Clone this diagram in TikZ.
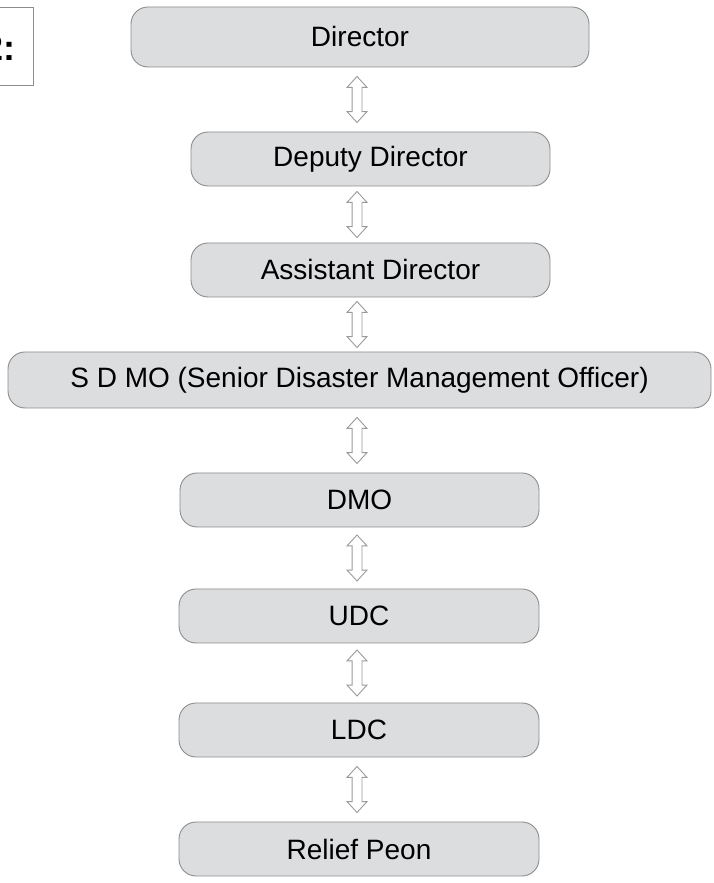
\documentclass[tikz,border=0pt]{standalone}
\usepackage{fontspec}
\setmainfont{Liberation Sans}
\usetikzlibrary{shapes.arrows}

\definecolor{boxgray}{HTML}{DCDDDF}
\definecolor{edgegray}{HTML}{8C8C8C}
\definecolor{arrowgray}{HTML}{9A9A9A}

\tikzset{
  post/.style={draw=edgegray, fill=boxgray, line width=0.9pt,
    rounded corners=17pt, inner sep=0pt, minimum height=54pt,
    font=\fontsize{28}{32}\selectfont},
  link/.style={double arrow, draw=arrowgray, fill=white, line width=0.9pt,
    minimum height=46pt, inner sep=4.5pt,
    double arrow head extend=5pt, double arrow tip angle=85,
    shape border rotate=90}
}

\begin{document}
\begin{tikzpicture}[x=1pt,y=1pt]

  \newcommand\W{359pt};
  \newcommand\AX{357};

  \useasboundingbox (0,0) rectangle (713,883); %% page
  \clip (0,0) rectangle (713,883);

  %% caption box, cut off at the left edge
  \draw[edgegray, line width=0.9pt] (-20,798) rectangle (33,876);
  \node[anchor=base east, inner sep=0pt,
    font=\bfseries\fontsize{36}{40}\selectfont] (tag) at (16,822) {2:};

  \node[post, minimum width=458pt, minimum height=60pt] (dir) at (360,846) {Director};
  \node[post, minimum width=\W] (dep)  at (370.5,724) {Deputy Director};
  \node[post, minimum width=\W] (asst) at (370.5,613) {Assistant Director};
  \node[post, minimum width=703pt, minimum height=56pt]
    (sdmo) at (359.5,503) {S D MO (Senior Disaster Management Officer)};
  \node[post, minimum width=\W] (dmo)  at (359.5,383) {DMO};
  \node[post, minimum width=360pt] (udc)  at (359,267) {UDC};
  \node[post, minimum width=360pt] (ldc)  at (359,153) {LDC};
  \node[post, minimum width=360pt] (peon) at (359,34)  {Relief Peon};

  %% links
  \coordinate (ax) at (\AX,0);
  \foreach \a/\b in {dir/dep, dep/asst, asst/sdmo, sdmo/dmo, dmo/udc, udc/ldc, ldc/peon}
    \path (ax |- \a.south) -- node[link]{} (ax |- \b.north);

\end{tikzpicture}
\end{document}
